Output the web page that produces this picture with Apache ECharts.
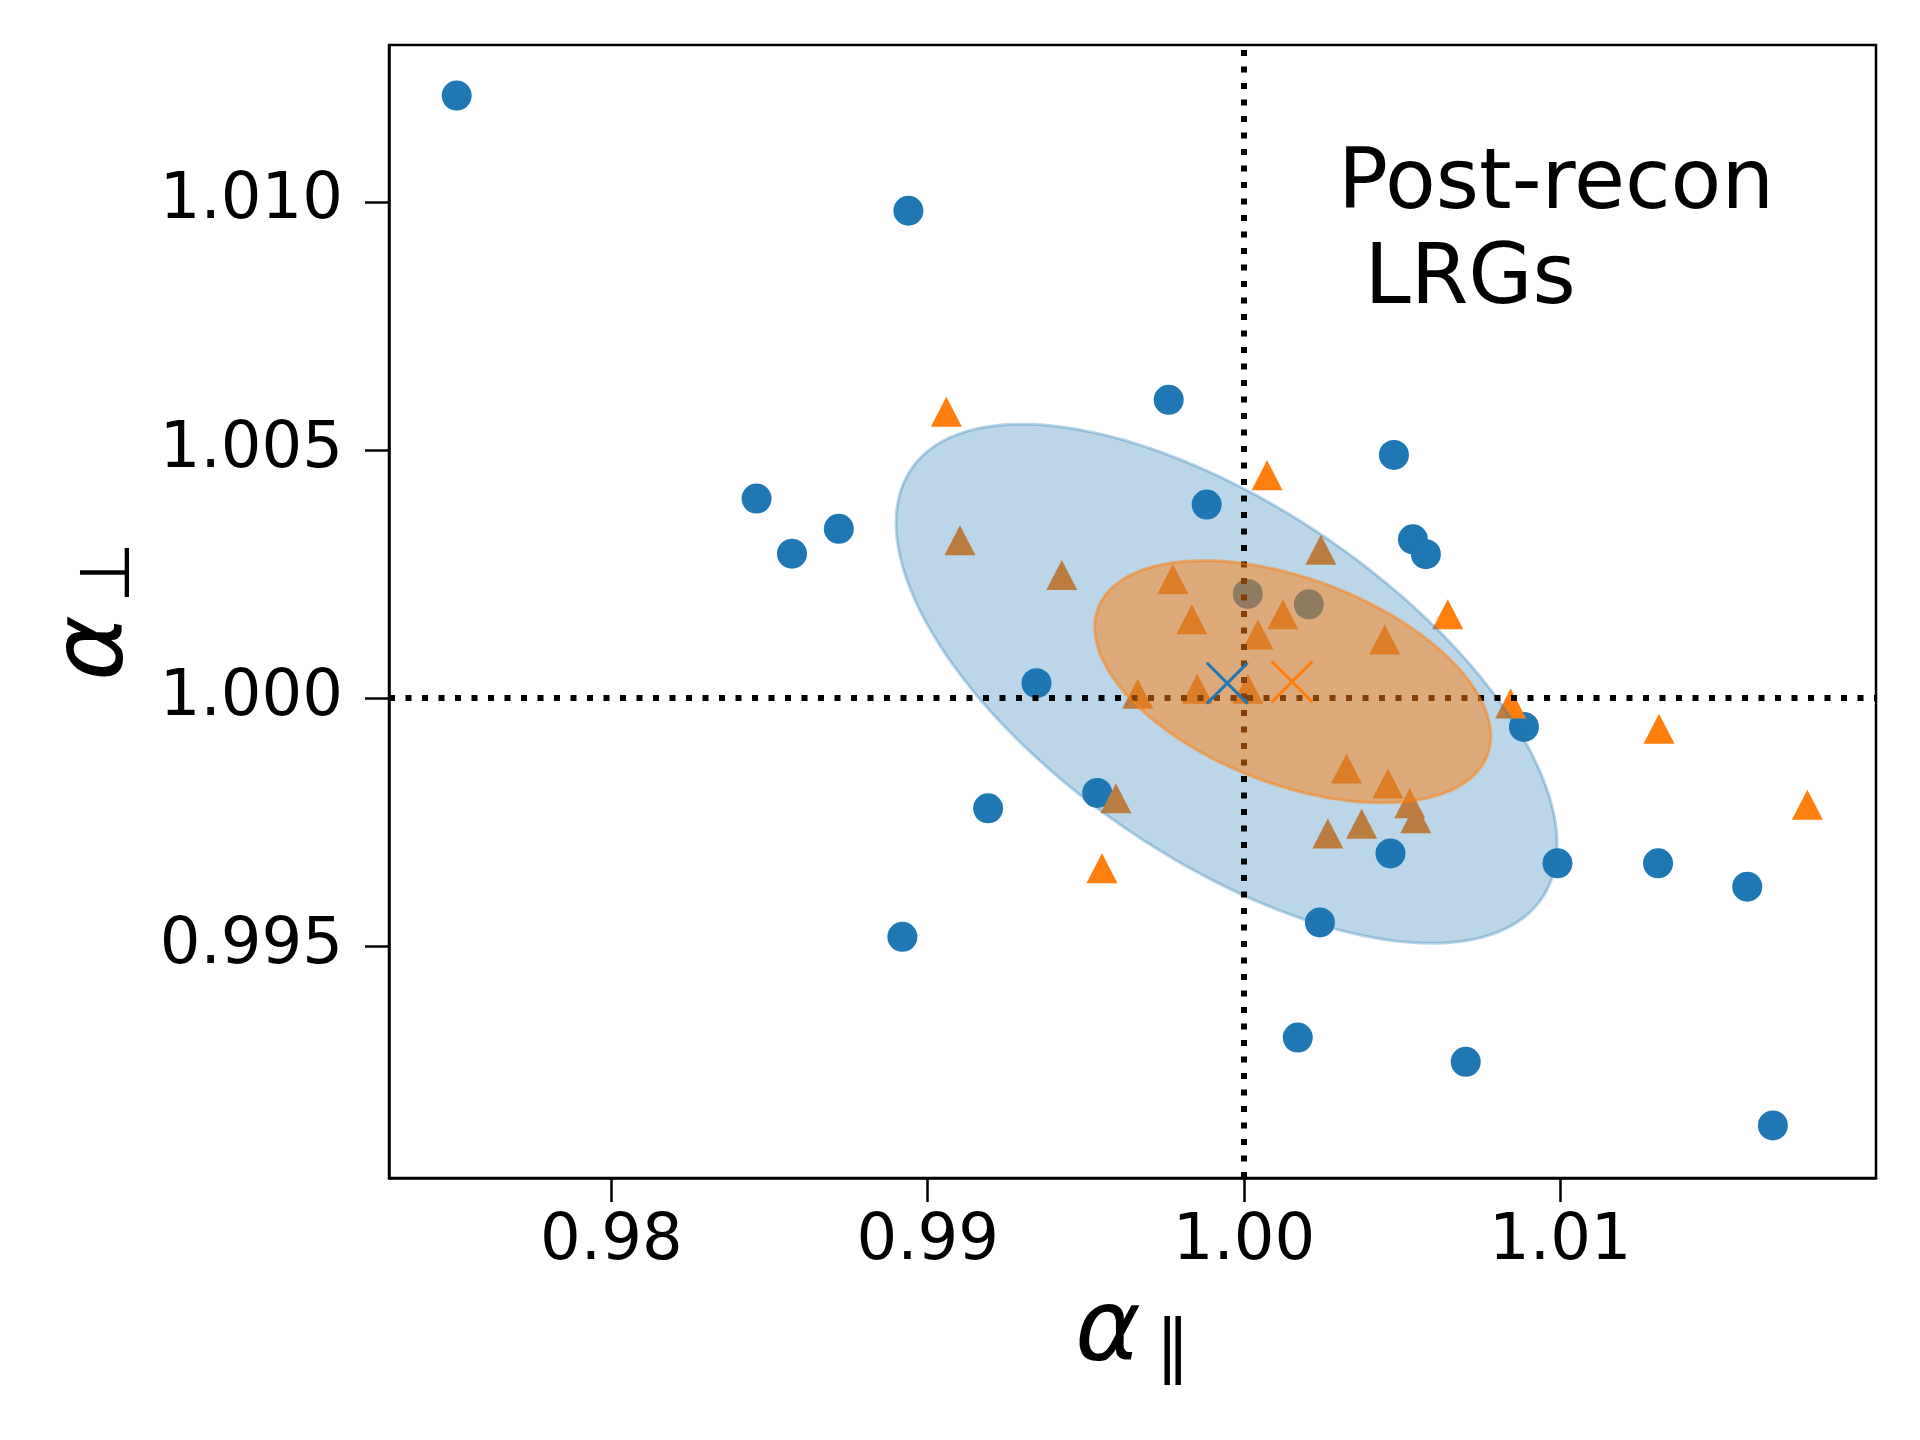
<!DOCTYPE html>
<html>
<head>
<meta charset="utf-8">
<script src="https://cdn.jsdelivr.net/npm/echarts@6/dist/echarts.min.js"></script>
<style>
  html, body { margin: 0; padding: 0; background: #fff; }
  #chart { width: 1920px; height: 1440px; }
</style>
</head>
<body>
<div id="chart"></div>
<script>
// blue circles (one per mock)
const blueX = [0.97511, 0.98939, 0.99762, 1.00474, 0.98459, 0.99882, 0.98719, 1.00534, 0.98571, 1.00575,
  1.00012, 1.00205, 0.99344, 1.00885, 0.99536, 0.99191, 1.00463, 1.00991, 1.01309, 1.01591,
  1.00240, 0.98920, 1.00170, 1.00701, 1.01672];
const blueY = [1.01214, 1.00982, 1.00601, 1.00490, 1.00402, 1.00390, 1.00341, 1.00320, 1.00291, 1.00290,
  1.00210, 1.00189, 1.00030, 0.99942, 0.99809, 0.99778, 0.99687, 0.99667, 0.99667, 0.99620,
  0.99548, 0.99519, 0.99316, 0.99267, 0.99139];

// orange triangles
const orangeX = [0.99059, 1.00073, 0.99102, 1.00243, 0.99424, 0.99775, 1.00644, 1.00123, 0.99835, 1.00044,
  1.00445, 0.99664, 0.99852, 1.00012, 1.00843, 1.01312, 1.00324, 1.00455, 0.99595, 1.01781,
  1.00524, 1.00543, 1.00372, 1.00265, 0.99551];
const orangeY = [1.00577, 1.00449, 1.00318, 1.00299, 1.00248, 1.00240, 1.00169, 1.00169, 1.00159, 1.00128,
  1.00118, 1.00009, 1.00019, 1.00019, 0.99989, 0.99938, 0.99858, 0.99828, 0.99798, 0.99785,
  0.99788, 0.99758, 0.99747, 0.99727, 0.99657];

// means
const blueMean = [0.99947, 1.00030];
const orangeMean = [1.00152, 1.00033];

// ellipses: centre x, centre y, half width, half height, correlation
const blueEllipse = [0.99945, 1.00029, 0.01045, 0.00523, -0.62];
const orangeEllipse = [1.00154, 1.00033, 0.00626, 0.00244, -0.45];

const xTicks = [0.98, 0.99, 1.00, 1.01];
const yTicks = [0.995, 1.000, 1.005, 1.010];
const xRange = [0.97297, 1.01998];
const yRange = [0.99033, 1.01316];
const refValue = 1.0;

const chart = echarts.init(document.getElementById('chart'));

const pairs = (xs, ys) => xs.map((x, i) => [x, ys[i]]);

const ellipseRenderer = (fill) => (params, api) => {
  const cx = api.value(0), cy = api.value(1);
  const ax = api.value(2), ay = api.value(3), rho = api.value(4);
  const s = Math.sqrt(1 - rho * rho);
  const pts = [];
  for (let i = 0; i < 200; i++) {
    const t = (i / 200) * 2 * Math.PI;
    pts.push(api.coord([cx + ax * Math.cos(t), cy + ay * (rho * Math.cos(t) + s * Math.sin(t))]));
  }
  return {
    type: 'polygon',
    shape: { points: pts },
    style: { fill: fill, stroke: fill, lineWidth: 3 }
  };
};

const crossPath = 'path://M0,0.5L0.5,0L10,9.5L9.5,10Z M9.5,0L10,0.5L0.5,10L0,9.5Z';

const axisCommon = {
  splitLine: { show: false },
  axisLine: { show: true, onZero: false, lineStyle: { color: '#000', width: 2.5 } },
  axisTick: { show: true, inside: false, length: 24, lineStyle: { color: '#000', width: 2.5 } }
};

const options = {
  animation: false,
  backgroundColor: '#fff',
  textStyle: { fontFamily: 'DejaVu Sans' },
  grid: {
    left: 389, top: 45, width: 1487, height: 1133,
    show: true, borderColor: '#000', borderWidth: 2.5, backgroundColor: 'transparent'
  },
  xAxis: {
    type: 'value',
    min: xRange[0], max: xRange[1],
    ...axisCommon,
    axisTick: { ...axisCommon.axisTick, customValues: xTicks },
    axisLabel: {
      customValues: xTicks, margin: 32, fontSize: 64, color: '#000',
      formatter: (v) => v.toFixed(2)
    },
    name: '{a|α}{b|∥}',
    nameLocation: 'middle',
    nameGap: 103,
    nameTextStyle: {
      rich: {
        a: { fontSize: 100, fontStyle: 'italic', fontFamily: 'DejaVu Sans', color: '#000' },
        b: { fontSize: 70, fontFamily: 'DejaVu Sans', color: '#000', padding: [36, 0, 0, 14] }
      }
    }
  },
  yAxis: {
    type: 'value',
    min: yRange[0], max: yRange[1],
    ...axisCommon,
    axisTick: { ...axisCommon.axisTick, customValues: yTicks },
    axisLabel: {
      customValues: yTicks, margin: 46, fontSize: 64, color: '#000',
      formatter: (v) => v.toFixed(3)
    },
    name: '{a|α}{b|⊥}',
    nameLocation: 'middle',
    nameRotate: 90,
    nameGap: 243,
    nameTextStyle: {
      rich: {
        a: { fontSize: 100, fontStyle: 'italic', fontFamily: 'DejaVu Sans', color: '#000' },
        b: { fontSize: 70, fontFamily: 'DejaVu Sans', color: '#000', padding: [30, 0, 0, 12] }
      }
    }
  },
  graphic: [{
    type: 'text',
    left: 1338,
    top: 139,
    style: {
      text: 'Post-recon\n LRGs',
      font: '83px "DejaVu Sans"',
      lineHeight: 95,
      fill: '#000'
    }
  }],
  series: [
    {
      type: 'scatter',
      data: pairs(blueX, blueY),
      symbol: 'circle',
      symbolSize: 30,
      itemStyle: { color: '#1f77b4', opacity: 1 },
      z: 2, silent: true
    },
    {
      type: 'scatter',
      data: pairs(orangeX, orangeY),
      symbol: 'triangle',
      symbolSize: [31, 30],
      itemStyle: { color: '#ff7f0e', opacity: 1 },
      z: 3, silent: true
    },
    {
      type: 'custom',
      data: [blueEllipse],
      encode: { x: 0, y: 1 },
      renderItem: ellipseRenderer('rgba(31,119,180,0.3)'),
      z: 4, silent: true
    },
    {
      type: 'custom',
      data: [orangeEllipse],
      encode: { x: 0, y: 1 },
      renderItem: ellipseRenderer('rgba(255,127,14,0.5)'),
      z: 5, silent: true
    },
    {
      type: 'scatter',
      data: [blueMean],
      symbol: crossPath,
      symbolSize: 43,
      itemStyle: { color: '#1f77b4', opacity: 1 },
      z: 6, silent: true
    },
    {
      type: 'scatter',
      data: [orangeMean],
      symbol: crossPath,
      symbolSize: 43,
      itemStyle: { color: '#ff7f0e', opacity: 1 },
      z: 6, silent: true
    },
    {
      type: 'scatter',
      data: [],
      z: 8, silent: true,
      markLine: {
        silent: true,
        symbol: ['none', 'none'],
        label: { show: false },
        lineStyle: { color: '#000', width: 6, type: [6, 10.5], opacity: 1 },
        emphasis: { disabled: true },
        data: [{ xAxis: refValue }, { yAxis: refValue }]
      }
    }
  ]
};

chart.setOption(options);
</script>
</body>
</html>
